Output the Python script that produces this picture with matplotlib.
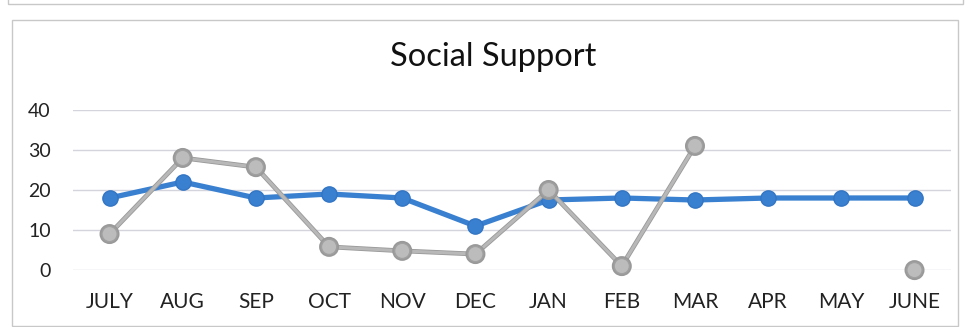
import matplotlib.pyplot as plt
import matplotlib.patheffects as pe
from matplotlib.patches import Rectangle
import numpy as np

# data
months = ['JULY', 'AUG', 'SEP', 'OCT', 'NOV', 'DEC', 'JAN', 'FEB', 'MAR', 'APR', 'MAY', 'JUNE']
blue_vals = [18, 22, 18, 19, 18, 11, 17.5, 18, 17.5, 18, 18, 18]
gray_vals = [9, 28, 25.7, 5.8, 4.8, 4, 20, 1, 31, np.nan, np.nan, 0]
y_ticks = [0, 10, 20, 30, 40]

plt.rcParams['font.family'] = ['Lato', 'DejaVu Sans']

fig = plt.figure(figsize=(9.65, 3.27), dpi=100)
ax = fig.add_axes([0.0756, 0.174, 0.91, 0.49])

x = np.arange(len(months))
ax.plot(x, blue_vals, color='#3a80d0', linewidth=3.8, marker='o',
        markersize=11, markerfacecolor='#3a80d0', markeredgecolor='#3275c4',
        zorder=3, clip_on=False)
ax.plot(x, gray_vals, color='#b8b8b8', linewidth=2.2, marker='o',
        markersize=11, markerfacecolor='#bcbcbc', markeredgecolor='#a0a0a0',
        path_effects=[pe.Stroke(linewidth=3.4, foreground='#999999'), pe.Normal()],
        zorder=4, clip_on=False)

ax.set_xlim(-0.5, len(months) - 0.5)
ax.set_ylim(0, 40)
ax.set_yticks(y_ticks)
ax.set_xticks(x)
ax.set_xticklabels(months, fontsize=15, color='#222222')
ax.set_yticklabels([str(v) for v in y_ticks], fontsize=14, color='#222222')
ax.tick_params(axis='both', length=0)
ax.tick_params(axis='x', pad=16)
ax.tick_params(axis='y', pad=16)
ax.grid(axis='y', color='#d4d4dc', linewidth=1.0)
ax.set_axisbelow(True)
for s in ax.spines.values():
    s.set_visible(False)

fig.text(0.511, 0.825, 'Social Support', fontsize=23.5, ha='center', va='center',
         color='#111111')

# chart frame of the scan
fig.patches.append(Rectangle((12 / 965, 0.003), 946 / 965, 1 - 20 / 327 - 0.003,
                             transform=fig.transFigure, fill=False,
                             edgecolor='#c8c8c8', linewidth=1.0))
fig.patches.append(Rectangle((8 / 965, 1 - 4 / 327), 955 / 965, 0.05,
                             transform=fig.transFigure, fill=False,
                             edgecolor='#c8c8c8', linewidth=1.0))

fig.savefig('out.png', dpi=100)
